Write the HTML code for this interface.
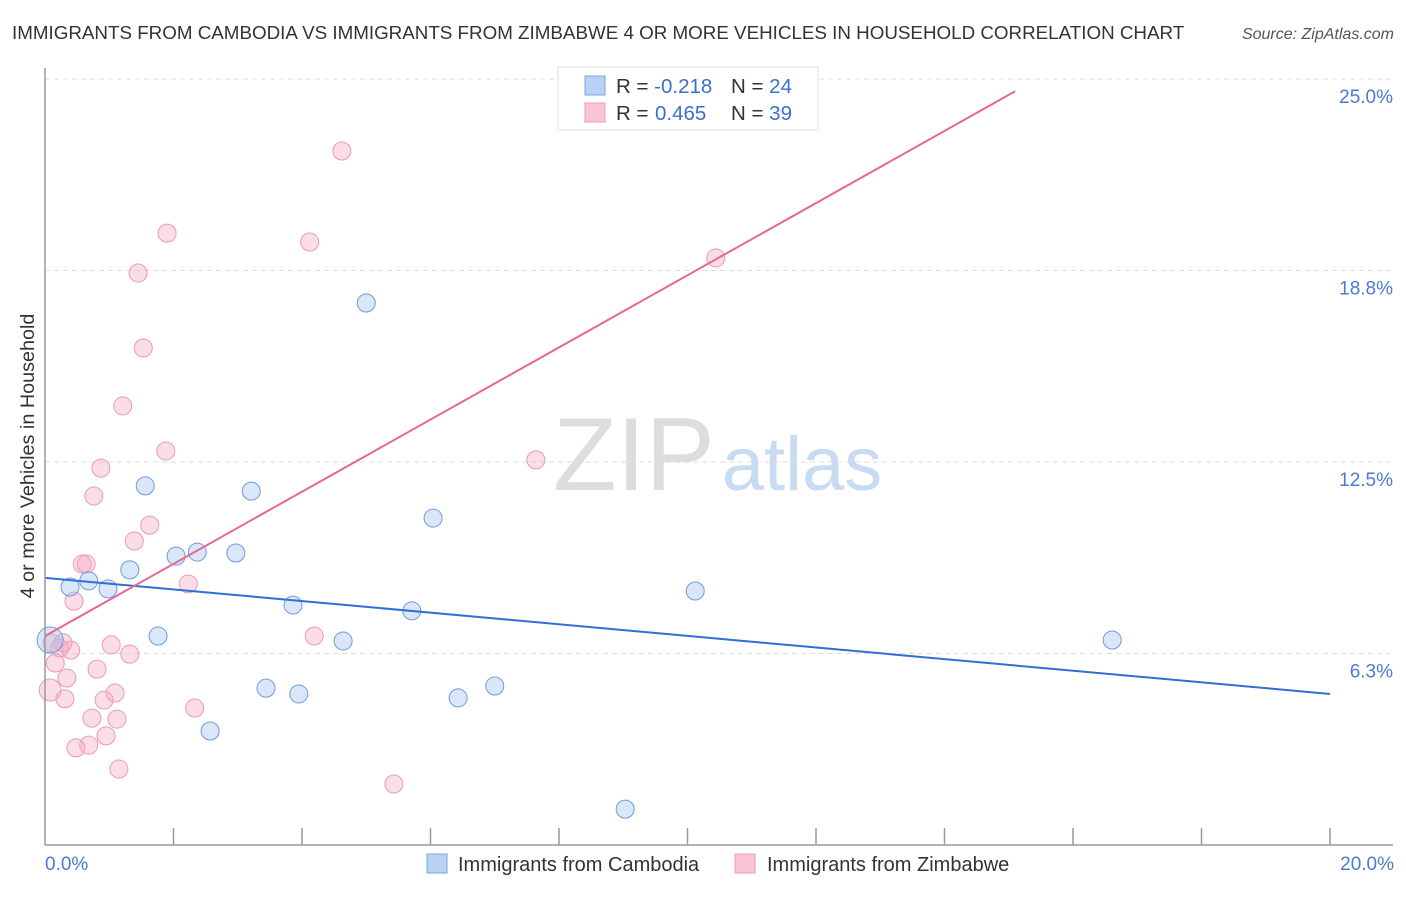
<!DOCTYPE html>
<html><head><meta charset="utf-8"><style>
body{margin:0;background:#fff;font-family:"Liberation Sans",sans-serif}
svg text{font-family:"Liberation Sans",sans-serif}
</style></head><body>
<svg width="1406" height="892" id="c">
<text x="12" y="39" font-size="18.8" fill="#333">IMMIGRANTS FROM CAMBODIA VS IMMIGRANTS FROM ZIMBABWE 4 OR MORE VEHICLES IN HOUSEHOLD CORRELATION CHART</text>
<text x="1394" y="39" font-size="16" fill="#555" text-anchor="end" font-style="italic">Source: ZipAtlas.com</text>
<text x="634" y="490" font-size="104" fill="#ddd" font-family="Liberation Serif" text-anchor="middle">ZIP</text>
<text x="802" y="490" font-size="76" fill="#c8dbf2" text-anchor="middle">atlas</text>
<text transform="translate(34,456) rotate(-90)" font-size="19.8" fill="#333" text-anchor="middle">4 or more Vehicles in Household</text>
<g id="grid"></g><g id="pts"></g><g id="lines"></g>
<line x1="45" y1="68" x2="45" y2="845" stroke="#999" stroke-width="1.5"/>
<line x1="45" y1="845" x2="1393" y2="845" stroke="#999" stroke-width="1.5"/>
<text x="45" y="870" font-size="19" fill="#4a7bd0">0.0%</text>
<text x="1394" y="870" font-size="19" fill="#4a7bd0" text-anchor="end">20.0%</text>
<g>
<rect x="558" y="67" width="260" height="63" fill="#fff" stroke="#ddd"/>
<rect x="585" y="76" width="20" height="19" fill="#b8d2f4" stroke="#7aa6e0"/>
<rect x="585" y="103" width="20" height="19" fill="#f9c5d4" stroke="#ee9ab3"/>
<text x="616" y="93" font-size="20.5" fill="#333">R = <tspan fill="#3a6fcc">-0.218</tspan><tspan x="731">N = </tspan><tspan fill="#3a6fcc">24</tspan></text>
<text x="616" y="120" font-size="20.5" fill="#333">R = <tspan fill="#3a6fcc" x="655">0.465</tspan><tspan x="731">N = </tspan><tspan fill="#3a6fcc">39</tspan></text>
</g>
<g>
<rect x="427" y="854" width="20" height="19" fill="#b8d2f4" stroke="#7aa6e0"/>
<text x="458" y="871" font-size="20" fill="#333">Immigrants from Cambodia</text>
<rect x="735" y="854" width="20" height="19" fill="#f9c5d4" stroke="#ee9ab3"/>
<text x="767" y="871" font-size="20" fill="#333">Immigrants from Zimbabwe</text>
</g>
</svg>
<script>
const yTicks=[6.25,12.5,18.75,25];
const yTickLabels=["6.3%","12.5%","18.8%","25.0%"];
const xTicks=[2,4,6,8,10,12,14,16,18,20];
const cambodiaX=[0.08,0.39,0.68,0.98,1.32,1.76,1.56,2.04,2.37,2.57,2.97,3.21,3.44,3.86,3.95,4.64,5.00,5.71,6.04,6.43,7.00,9.03,10.12,16.61];
const cambodiaY=[6.69,8.42,8.62,8.36,8.98,6.82,11.72,9.43,9.56,3.72,9.53,11.55,5.12,7.83,4.93,6.66,17.69,7.64,10.67,4.80,5.19,1.17,8.29,6.69];
const zimbabweX=[4.62,1.90,4.12,1.45,10.44,1.53,1.21,1.88,7.64,0.87,0.76,1.63,1.39,0.58,0.64,2.23,0.45,4.19,1.03,0.11,0.23,0.40,1.32,0.16,0.81,0.34,0.08,1.09,0.31,0.92,2.33,0.73,1.12,0.95,0.68,0.48,1.15,5.43,0.28];
const zimbabweY=[22.65,19.97,19.68,18.67,19.16,16.22,14.33,12.86,12.57,12.30,11.39,10.44,9.92,9.17,9.17,8.52,7.96,6.82,6.53,6.59,6.43,6.36,6.23,5.94,5.74,5.45,5.06,4.96,4.77,4.73,4.47,4.14,4.11,3.56,3.26,3.17,2.48,1.99,6.6];
const cambodiaTrend=[[0,8.72],[20,4.93]];
const zimbabweTrend=[[0,6.82],[15.1,24.6]];
const NS="http://www.w3.org/2000/svg";
const X=v=>45+v/20*1285, Y=v=>845-v/25*766;
function mk(t,a,p){const e=document.createElementNS(NS,t);for(const k in a)e.setAttribute(k,a[k]);p.appendChild(e);return e;}
const g=document.getElementById('grid');
yTicks.forEach((t,i)=>{
 const l=mk('line',{x1:45,x2:1393,y1:Y(t),y2:Y(t),stroke:'#ddd','stroke-dasharray':'5,4'},g);
 
 
 const tx=mk('text',{x:1393,y:Y(t)+24,'font-size':19,fill:'#4a7bd0','text-anchor':'end'},g);
 tx.textContent=yTickLabels[i];
 
 
});
xTicks.forEach(t=>{
 const l=mk('line',{x1:X(t),x2:X(t),y1:828,y2:845,stroke:'#999','stroke-width':1.5},g);
 
 
});
const p=document.getElementById('pts');
zimbabweX.forEach((v,i)=>{
 const c=mk('circle',{cx:X(v),cy:Y(zimbabweY[i]),r:(v<0.1?11:9),fill:'rgba(246,170,195,0.4)',stroke:'#eb9ab4','stroke-width':1},p);
 
 
});
cambodiaX.forEach((v,i)=>{
 const c=mk('circle',{cx:X(v),cy:Y(cambodiaY[i]),r:(v<0.1?13:9),fill:'rgba(160,195,240,0.4)',stroke:'#6c9be0','stroke-width':1},p);
 
 
});
const L=document.getElementById('lines');
const b=mk('line',{x1:X(cambodiaTrend[0][0]),y1:Y(cambodiaTrend[0][1]),x2:X(cambodiaTrend[1][0]),y2:Y(cambodiaTrend[1][1]),stroke:'#2f6fd6','stroke-width':2},L);


const z=mk('line',{x1:X(zimbabweTrend[0][0]),y1:Y(zimbabweTrend[0][1]),x2:X(zimbabweTrend[1][0]),y2:Y(zimbabweTrend[1][1]),stroke:'#e8688f','stroke-width':2},L);


</script>
</body></html>
